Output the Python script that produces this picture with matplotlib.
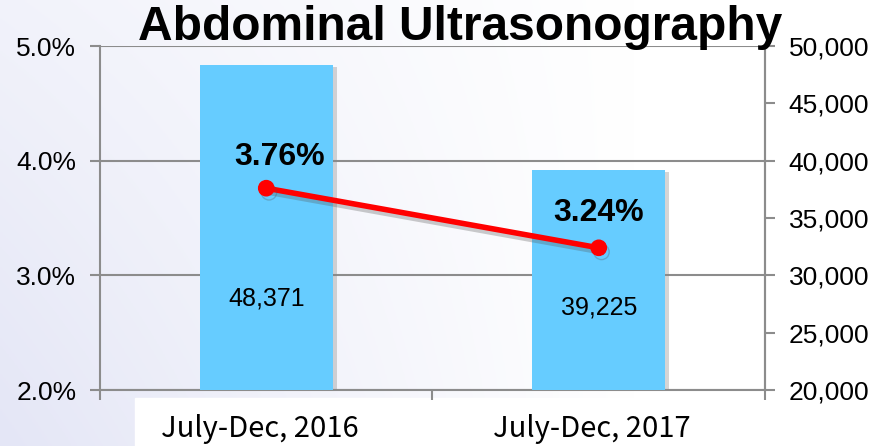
import numpy as np
import matplotlib
matplotlib.use("Agg")
import matplotlib.pyplot as plt
import matplotlib.patheffects as pe
import matplotlib.transforms as mtrans
from matplotlib.ticker import FuncFormatter

periods = ["July-Dec, 2016", "July-Dec, 2017"]
counts = [48371, 39225]
rates = [3.76, 3.24]
count_labels = ["48,371", "39,225"]
rate_labels = ["3.76%", "3.24%"]

plt.rcParams['font.family'] = ['Liberation Sans', 'DejaVu Sans']

fig = plt.figure(figsize=(8.87, 4.46), dpi=100)

# soft lavender background fading to white
bg = fig.add_axes([0, 0, 1, 1], zorder=-10)
gx = np.linspace(0, 1, 300)
gy = np.linspace(0, 1, 150)
X, Y = np.meshgrid(gx, gy)
w = np.clip(1 - X * 1.4, 0, 1) * (0.5 + 0.5 * Y)
c0 = np.array([228, 230, 246]) / 255.0
img = 1 - w[..., None] * (1 - c0)
bg.imshow(img, aspect="auto", extent=[0, 1, 0, 1], origin="upper")
bg.add_patch(plt.Rectangle((135 / 887, 0), 565 / 887, 48 / 446, color="white",
                           transform=bg.transAxes))
bg.set_axis_off()

grey = "#8c8c8c"
x = np.arange(len(periods))

ax = fig.add_axes([100 / 887, 56 / 446, 665 / 887, 344 / 446])
ax.patch.set_alpha(0)
ax.set_xlim(-0.5, 1.5)
ax.set_ylim(2.0, 5.0)
ax.set_yticks([2, 3, 4, 5])
ax.yaxis.set_major_formatter(FuncFormatter(lambda v, p: f"{v:.1f}%"))
ax.grid(axis="y", color=grey, lw=1.5)
ax.set_xticks([-0.5, 0.5, 1.5])
ax.set_xticklabels([])
ax.spines["top"].set_visible(False)
for s in ["left", "right", "bottom"]:
    ax.spines[s].set_color(grey)
    ax.spines[s].set_linewidth(1.5)
ax.tick_params(axis="both", color=grey, width=1.5, length=7, labelsize=19, pad=10)

ax2 = ax.twinx()
ax2.set_ylim(20000, 50000)
ax2.set_yticks(np.arange(20000, 50001, 5000))
ax2.yaxis.set_major_formatter(FuncFormatter(lambda v, p: f"{int(v):,}"))
ax2.tick_params(axis="y", color=grey, width=1.5, length=7, labelsize=19, pad=10)
for s in ["top", "left", "bottom"]:
    ax2.spines[s].set_visible(False)
ax2.spines["right"].set_color(grey)
ax2.spines["right"].set_linewidth(1.5)
bars = ax2.bar(x, counts, width=0.4, color="#66CCFF", zorder=2)
for b in bars:
    b.set_path_effects([pe.SimplePatchShadow(offset=(3, -2), shadow_rgbFace="#888888", alpha=0.35),
                        pe.Normal()])
for xi, lab, yoff in zip(x, count_labels, [0, -9]):
    ax2.text(xi, 28000, lab, ha="center", va="center", fontsize=18,
             transform=ax2.transData + mtrans.ScaledTranslation(0, yoff / 100, fig.dpi_scale_trans))

ax3 = ax.twinx()
ax3.set_ylim(2.0, 5.0)
ax3.set_axis_off()
ax3.plot(x, rates, color="#ff0000", lw=4, marker="o", markersize=11,
         path_effects=[pe.SimpleLineShadow(offset=(2, -3), shadow_color="#555555", alpha=0.3),
                       pe.Normal()])
ax3.text(x[0] + 0.04, rates[0] + 0.27, rate_labels[0], ha="center", va="center",
         fontsize=23, fontweight="bold")
ax3.text(x[1], rates[1] + 0.3, rate_labels[1], ha="center", va="center",
         fontsize=23, fontweight="bold")

xlab_tr = mtrans.blended_transform_factory(ax.transData, ax.transAxes)
for xi, lab in zip(x, periods):
    ax.text(xi - 0.02, -0.07, lab, ha="center", va="top", fontsize=21,
            fontweight="medium", transform=xlab_tr,
            family=["Noto Sans CJK TC", "DejaVu Sans"])

fig.text(460 / 887, 1 - 27 / 446, "Abdominal Ultrasonography", ha="center", va="center",
         fontsize=34.5, fontweight="bold")

fig.savefig("out.png", dpi=100)
